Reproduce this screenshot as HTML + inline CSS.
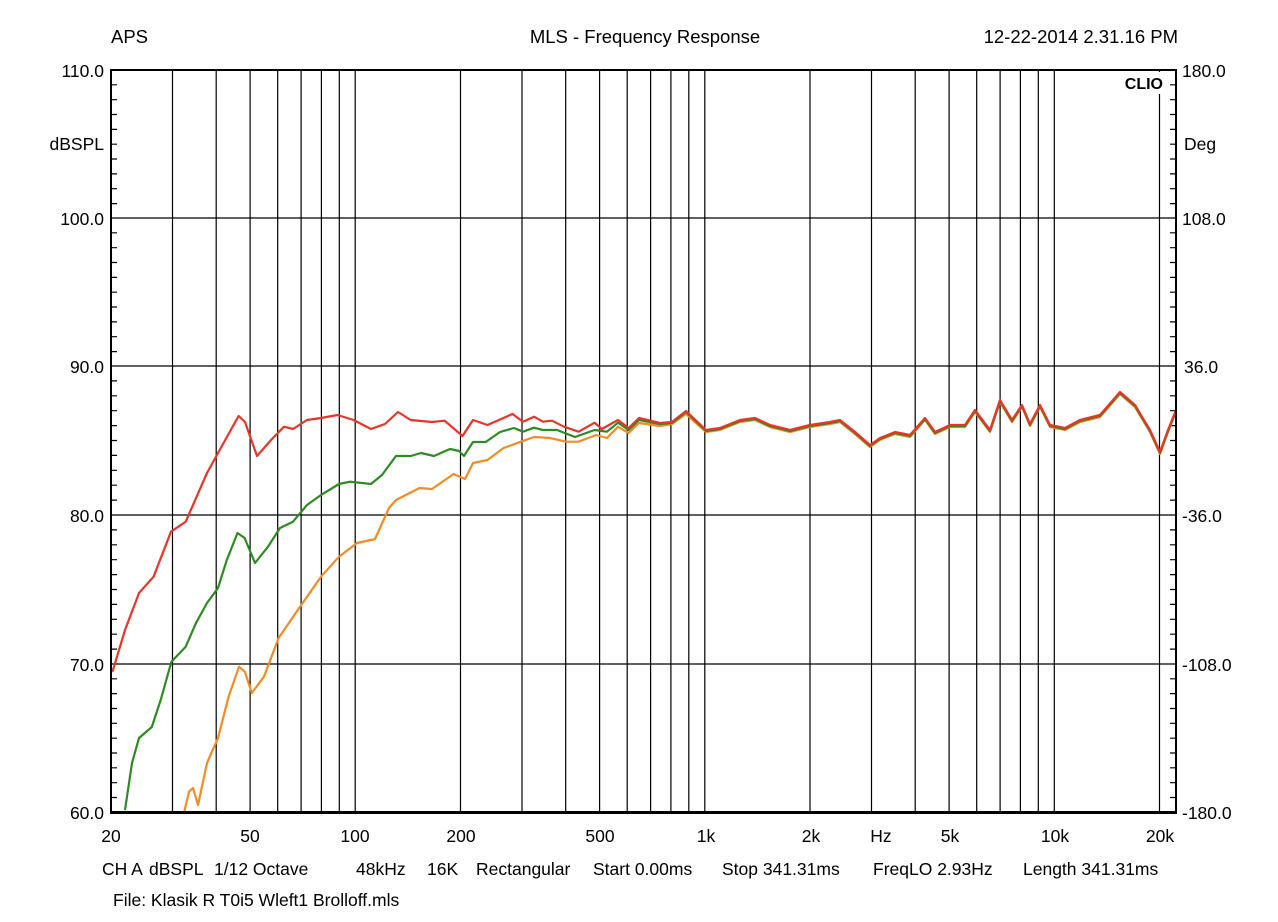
<!DOCTYPE html>
<html><head><meta charset="utf-8"><style>
html,body{margin:0;padding:0;background:#fff;}
svg{display:block;font-family:"Liberation Sans",Arial,sans-serif;}
</style></head><body>
<svg width="1278" height="922" viewBox="0 0 1278 922" xmlns="http://www.w3.org/2000/svg">
<rect width="1278" height="922" fill="#fff"/>
<g font-size="18.5" fill="#000">
<text x="111" y="43">APS</text>
<text x="645" y="43" text-anchor="middle">MLS - Frequency Response</text>
<text x="1178" y="43" text-anchor="end">12-22-2014 2.31.16 PM</text>
</g>
<g font-size="17.5" fill="#000">
<text x="104" y="77" text-anchor="end">110.0</text>
<text x="104" y="150" text-anchor="end">dBSPL</text>
<text x="104" y="225" text-anchor="end">100.0</text>
<text x="104" y="373" text-anchor="end">90.0</text>
<text x="104" y="522" text-anchor="end">80.0</text>
<text x="104" y="671" text-anchor="end">70.0</text>
<text x="104" y="819" text-anchor="end">60.0</text>
<text x="1182" y="77">180.0</text>
<text x="1184" y="150">Deg</text>
<text x="1182" y="225">108.0</text>
<text x="1184" y="373">36.0</text>
<text x="1182" y="522">-36.0</text>
<text x="1182" y="671">-108.0</text>
<text x="1182" y="819">-180.0</text>
<g text-anchor="middle">
<text x="111" y="842">20</text><text x="250" y="842">50</text><text x="355" y="842">100</text>
<text x="461" y="842">200</text><text x="600" y="842">500</text><text x="706" y="842">1k</text>
<text x="811" y="842">2k</text><text x="881" y="842">Hz</text><text x="950" y="842">5k</text>
<text x="1055" y="842">10k</text><text x="1160" y="842">20k</text>
</g>
<text x="102" y="875">CH A</text>
<text x="149" y="875">dBSPL</text>
<text x="214" y="875">1/12 Octave</text>
<text x="356" y="875">48kHz</text>
<text x="427" y="875">16K</text>
<text x="476" y="875">Rectangular</text>
<text x="593" y="875">Start 0.00ms</text>
<text x="722" y="875">Stop 341.31ms</text>
<text x="873" y="875">FreqLO 2.93Hz</text>
<text x="1023" y="875">Length 341.31ms</text>
<text x="113" y="906">File: Klasik R T0i5 Wleft1 Brolloff.mls</text>
</g>
<g stroke="#000" stroke-width="1.2" fill="none">
<path d="M111 218H1176M111 366H1176M111 515H1176M111 664H1176"/>
<path d="M172.5 70V812M216.2 70V812M250.1 70V812M277.7 70V812M301.1 70V812M321.4 70V812M339.3 70V812M355.2 70V812M460.5 70V812M522 70V812M565.7 70V812M599.6 70V812M627.2 70V812M650.6 70V812M670.9 70V812M688.8 70V812M704.8 70V812M810 70V812M871.5 70V812M915.2 70V812M949.1 70V812M976.7 70V812M1000.1 70V812M1020.4 70V812M1038.3 70V812M1054.3 70V812M1159.5 70V812"/>
</g>
<g stroke="#000" stroke-width="1.2" fill="none">
<path d="M111 84.8h6M111 99.7h6M111 114.5h6M111 129.4h6M111 144.2h6M111 159h6M111 173.9h6M111 188.7h6M111 203.6h6M111 232.8h6M111 247.7h6M111 262.5h6M111 277.4h6M111 292.2h6M111 307h6M111 321.9h6M111 336.7h6M111 351.6h6M111 380.9h6M111 395.8h6M111 410.7h6M111 425.6h6M111 440.5h6M111 455.4h6M111 470.3h6M111 485.2h6M111 500.1h6M111 529.9h6M111 544.8h6M111 559.7h6M111 574.6h6M111 589.5h6M111 604.4h6M111 619.3h6M111 634.2h6M111 649.1h6M111 678.8h6M111 693.6h6M111 708.5h6M111 723.3h6M111 738.2h6M111 753h6M111 767.8h6M111 782.7h6M111 797.5h6"/>
<path d="M1176 84.8h-6M1176 99.7h-6M1176 114.5h-6M1176 129.4h-6M1176 144.2h-6M1176 159h-6M1176 173.9h-6M1176 188.7h-6M1176 203.6h-6M1176 232.8h-6M1176 247.7h-6M1176 262.5h-6M1176 277.4h-6M1176 292.2h-6M1176 307h-6M1176 321.9h-6M1176 336.7h-6M1176 351.6h-6M1176 380.9h-6M1176 395.8h-6M1176 410.7h-6M1176 425.6h-6M1176 440.5h-6M1176 455.4h-6M1176 470.3h-6M1176 485.2h-6M1176 500.1h-6M1176 529.9h-6M1176 544.8h-6M1176 559.7h-6M1176 574.6h-6M1176 589.5h-6M1176 604.4h-6M1176 619.3h-6M1176 634.2h-6M1176 649.1h-6M1176 678.8h-6M1176 693.6h-6M1176 708.5h-6M1176 723.3h-6M1176 738.2h-6M1176 753h-6M1176 767.8h-6M1176 782.7h-6M1176 797.5h-6"/>
</g>
<rect x="1116" y="72" width="48" height="22" fill="#fff"/>
<text x="1163" y="89" font-size="16" font-weight="bold" text-anchor="end">CLIO</text>
<g fill="none" stroke-width="2.2" stroke-linejoin="round">
<path stroke="#f28c28" d="M184 812.7L189 791.7L193 788L198 805L207 763L218 738L228.6 696.7L239 666.7L245 672L251.8 693L264 676.7L278.6 638L300 606.7L321 576.7L339 556.7L357 543L375 539L389 508L396 500L419.6 488L432 489L453.6 474L465 479L473 463L487.5 460L503.6 448L521 441.7L534 437L550 438L566 441.7L578.6 441.7L596 435L607 438L618 426.7L628.6 433L639 423L660 426L672 424L686 414L706 432L720 430L740 422L755 420L770 427L790 432L810 427L830 424L840 422L855 434L870 447L880 440L895 434L910 437L925 420L935 434L950 427L965 427L975 412L990 432L1000 402L1012 422L1022 407L1030 426L1040 407L1050 427L1065 430L1080 422L1100 417L1120 394L1135 407L1150 432L1160 454L1168 432L1176 412"/>
<path stroke="#2e8b22" d="M125 810L132 763L139 738L151.8 727L160.7 700L171.4 661.7L185.7 646.7L196 623L207 603L218 588L226.8 560L237.5 533L244.6 538L255 563L268 546.7L280 528L293 521.7L307 505L321 495L339 484L350 481.7L371 484L382 475L396 456L410.7 456L421 453L434 456L450 449L459 451L464 456L473 442L485.7 442L500 432L514 428L523 431.7L534 427.7L543 430L557 430L575 437L594.6 430L607 431.7L618 422.7L628.6 430L639 420L660 424L672 423L686 412L706 431L720 429L740 421L755 419L770 426L790 431L810 426L830 423L840 421L855 433L870 446L880 439L895 433L910 436L925 419L935 433L950 426L965 426L975 411L990 431L1000 401L1012 421L1022 406L1030 425L1040 406L1050 426L1065 429L1080 421L1100 416L1120 393L1135 406L1150 431L1160 453L1168 431L1176 411"/>
<path stroke="#e8352a" d="M112.5 671.7L125 630L139 593L153.6 576.7L171 531.7L185.7 521.7L207 473L218 453L238.6 416L245 422L257 456L271 440L284 426.7L293 429L307 420L321 418L337.5 415L353.6 420L371 429L385 424L398 412L410.7 420L432 422L444.6 420.7L462.5 436L473 420L487.5 425L512.5 414L523 421.7L534 416.7L543 421.7L552 420.7L564 426.7L578.6 431.7L594.6 422.7L601.8 429L618 420L628.6 428L639 418L660 423L672 422L686 411L706 430L720 428L740 420L755 418L770 425L790 430L810 425L830 422L840 420L855 432L870 445L880 438L895 432L910 435L925 418L935 432L950 425L965 425L975 410L990 430L1000 400L1012 420L1022 405L1030 424L1040 405L1050 425L1065 428L1080 420L1100 415L1120 392L1135 405L1150 430L1160 452L1168 430L1176 410"/>
</g>
<rect x="111" y="70" width="1065" height="742" fill="none" stroke="#000" stroke-width="2"/>
<path d="M110 812.5H1177" stroke="#000" stroke-width="3"/>
</svg>
</body></html>
